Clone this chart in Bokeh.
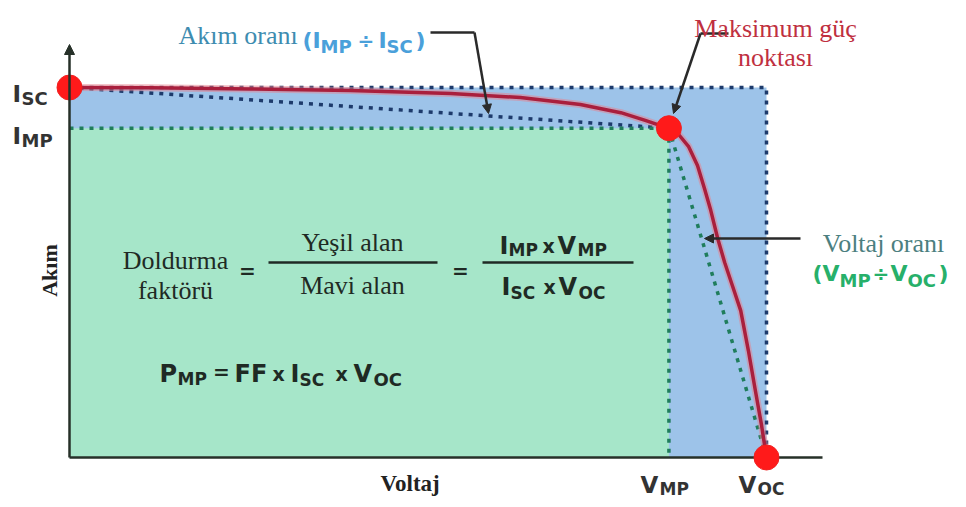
from bokeh.plotting import figure
from bokeh.models import Range1d, Arrow, NormalHead
from bokeh.core.properties import value
from bokeh.embed import file_html
from bokeh.resources import INLINE

# ---------------- data ----------------
VOC = 1.0          # open-circuit voltage (normalised)
ISC = 1.0          # short-circuit current (normalised)
VMP = 0.86         # voltage at maximum power point
IMP = 0.89         # current at maximum power point

voltage = [0.0, 0.116, 0.26, 0.403, 0.547, 0.647, 0.733, 0.791, 0.826, 0.845, 0.86,
           0.874, 0.888, 0.901, 0.911, 0.92, 0.93, 0.94, 0.951, 0.963, 0.974,
           0.984, 0.993, 1.0]
current = [1.0, 0.999, 0.996, 0.992, 0.984, 0.973, 0.954, 0.932, 0.911, 0.899, 0.89,
           0.873, 0.841, 0.789, 0.727, 0.668, 0.592, 0.527, 0.465, 0.397, 0.289,
           0.181, 0.086, 0.0]

point_v = [0.0, VMP, VOC]
point_i = [ISC, IMP, 0.0]


# helpers converting picture pixels to data units (annotation placement only)
def X(px):
    return (px - 69) / 697 * VOC


def Y(py):
    return (457 - py) / 370 * ISC


SANS = "DejaVu Sans"
SERIF = "Liberation Serif"
W, H = 958, 499

p = figure(width=W, height=H,
           x_range=Range1d(X(0), X(W)), y_range=Range1d(Y(H), Y(0)),
           output_backend="svg", toolbar_location=None,
           x_axis_type=None, y_axis_type=None, min_border=0)
p.grid.visible = False
p.outline_line_color = None
p.background_fill_color = "white"

# areas
p.quad(left=[0], right=[VOC], bottom=[0], top=[ISC], fill_color="#9DC3E9", line_color=None)
p.quad(left=[0], right=[VMP], bottom=[0], top=[IMP], fill_color="#A6E6C9", line_color=None)

# dotted guide lines
NAVY = "#1D3A6B"
DGREEN = "#1F7D5C"
p.line([0, VOC, VOC], [ISC, ISC, 0], line_color=NAVY, line_width=3.5, line_dash="4 6")
p.line([0, VMP], [ISC, IMP], line_color=NAVY, line_width=3.5, line_dash="4 6")
p.line([0, VMP, VMP], [IMP, IMP, 0], line_color=DGREEN, line_width=3.5, line_dash="4 6")
p.line([VMP, VOC], [IMP, 0], line_color=DGREEN, line_width=3.5, line_dash="4 6")

# axes
AX = "#263028"
p.line([0, X(822)], [0, 0], line_color=AX, line_width=2.5)
p.add_layout(Arrow(end=NormalHead(size=10, fill_color=AX, line_color=AX),
                   x_start=0, y_start=0, x_end=0, y_end=Y(44),
                   line_color=AX, line_width=2.5))

# I-V curve
p.line(voltage, current, line_color="#E8808C", line_width=7, line_alpha=0.5)
p.line(voltage, current, line_color="#A91F3D", line_width=3.5)

# key points
p.scatter(point_v, point_i, size=25, fill_color="#FF1A1A", line_color="#F02020")

# pointer arrows
ARC = "#2A2A2A"
p.line([X(430), X(474)], [Y(32), Y(32)], line_color=ARC, line_width=2.5)
p.add_layout(Arrow(end=NormalHead(size=9, fill_color=ARC, line_color=ARC),
                   x_start=X(474), y_start=Y(32), x_end=X(488), y_end=Y(113),
                   line_color=ARC, line_width=2.5))
p.line([X(728), X(700)], [Y(33), Y(33)], line_color=ARC, line_width=2.5)
p.add_layout(Arrow(end=NormalHead(size=9, fill_color=ARC, line_color=ARC),
                   x_start=X(700), y_start=Y(33), x_end=X(673), y_end=Y(113),
                   line_color=ARC, line_width=2.5))
p.add_layout(Arrow(end=NormalHead(size=9, fill_color=ARC, line_color=ARC),
                   x_start=X(800), y_start=Y(238), x_end=X(704), y_end=Y(238),
                   line_color=ARC, line_width=2.5))


def T(px, py, s, size, color, font=SANS, style="bold", align="left",
      baseline="alphabetic", angle=0.0):
    p.text(x=[X(px)], y=[Y(py)], text=[s], text_font=value(font),
           text_font_size=f"{size}px", text_font_style=style, text_color=color,
           text_align=align, text_baseline=baseline, angle=angle)


LBL = "#333333"
# I_SC / I_MP labels
T(12, 93, "I", 23, LBL); T(21, 98, "SC", 18, LBL)
T(12, 135, "I", 23, LBL); T(21, 140, "MP", 18, LBL)
# V_MP / V_OC labels
T(640, 484, "V", 23, LBL); T(659, 488, "MP", 17, LBL)
T(738, 484, "V", 23, LBL); T(757, 488, "OC", 17, LBL)

# axis titles
T(49, 270, "Akım", 22, "#222222", font=SERIF, align="center", angle=1.5708)
T(380, 483, "Voltaj", 23, "#222222", font=SERIF)

# Akım oranı
T(178, 35, "Akım oranı", 26, "#3E8CB0", font=SERIF, style="normal")
BLU = "#4AA0DA"
T(302, 40, "(", 22, BLU); T(312, 40, "I", 22, BLU); T(320, 46, "MP", 18, BLU)
T(357, 40, "÷", 20, BLU); T(378, 40, "I", 22, BLU); T(386, 46, "SC", 18, BLU)
T(415, 40, ")", 22, BLU)

# Maksimum güç noktası
RED = "#C0303F"
T(775, 28, "Maksimum güç", 26, RED, font=SERIF, style="normal", align="center")
T(775, 57, "noktası", 26, RED, font=SERIF, style="normal", align="center")

# Voltaj oranı
T(883, 243, "Voltaj oranı", 26, "#4C7F80", font=SERIF, style="normal", align="center")
GRN = "#27B06A"
T(812, 273, "(", 22, GRN); T(822, 273, "V", 22, GRN); T(839, 280, "MP", 18, GRN)
T(872, 273, "÷", 20, GRN); T(890, 273, "V", 22, GRN); T(907, 280, "OC", 18, GRN)
T(938, 273, ")", 22, GRN)

# fill factor formula
FT = "#1F2A24"
T(175, 260, "Doldurma", 26, FT, font=SERIF, style="normal", align="center")
T(175, 290, "faktörü", 26, FT, font=SERIF, style="normal", align="center")
T(247, 270, "=", 20, FT, align="center")
p.line([X(268), X(437)], [Y(262), Y(262)], line_color=FT, line_width=2.5)
T(352, 242, "Yeşil alan", 26, FT, font=SERIF, style="normal", align="center")
T(352, 285, "Mavi alan", 26, FT, font=SERIF, style="normal", align="center")
T(460, 270, "=", 20, FT, align="center")
p.line([X(482), X(633)], [Y(262), Y(262)], line_color=FT, line_width=2.5)
T(499, 245, "I", 24, FT); T(508, 249, "MP", 17, FT)
T(542, 245, "x", 19, FT); T(557, 245, "V", 24, FT); T(577, 249, "MP", 17, FT)
T(501, 286, "I", 24, FT); T(510, 292, "SC", 17, FT)
T(543, 286, "x", 19, FT); T(558, 286, "V", 24, FT); T(578, 292, "OC", 17, FT)

# P_MP formula
T(159, 373, "P", 24, FT); T(177, 378, "MP", 17, FT)
T(221, 371, "=", 20, FT, align="center")
T(234, 373, "FF", 24, FT)
T(272, 373, "x", 19, FT)
T(290, 373, "I", 24, FT); T(299, 379, "SC", 17, FT)
T(335, 373, "x", 19, FT)
T(353, 373, "V", 24, FT); T(373, 379, "OC", 18, FT)

open("out.html", "w").write(file_html(p, INLINE))
